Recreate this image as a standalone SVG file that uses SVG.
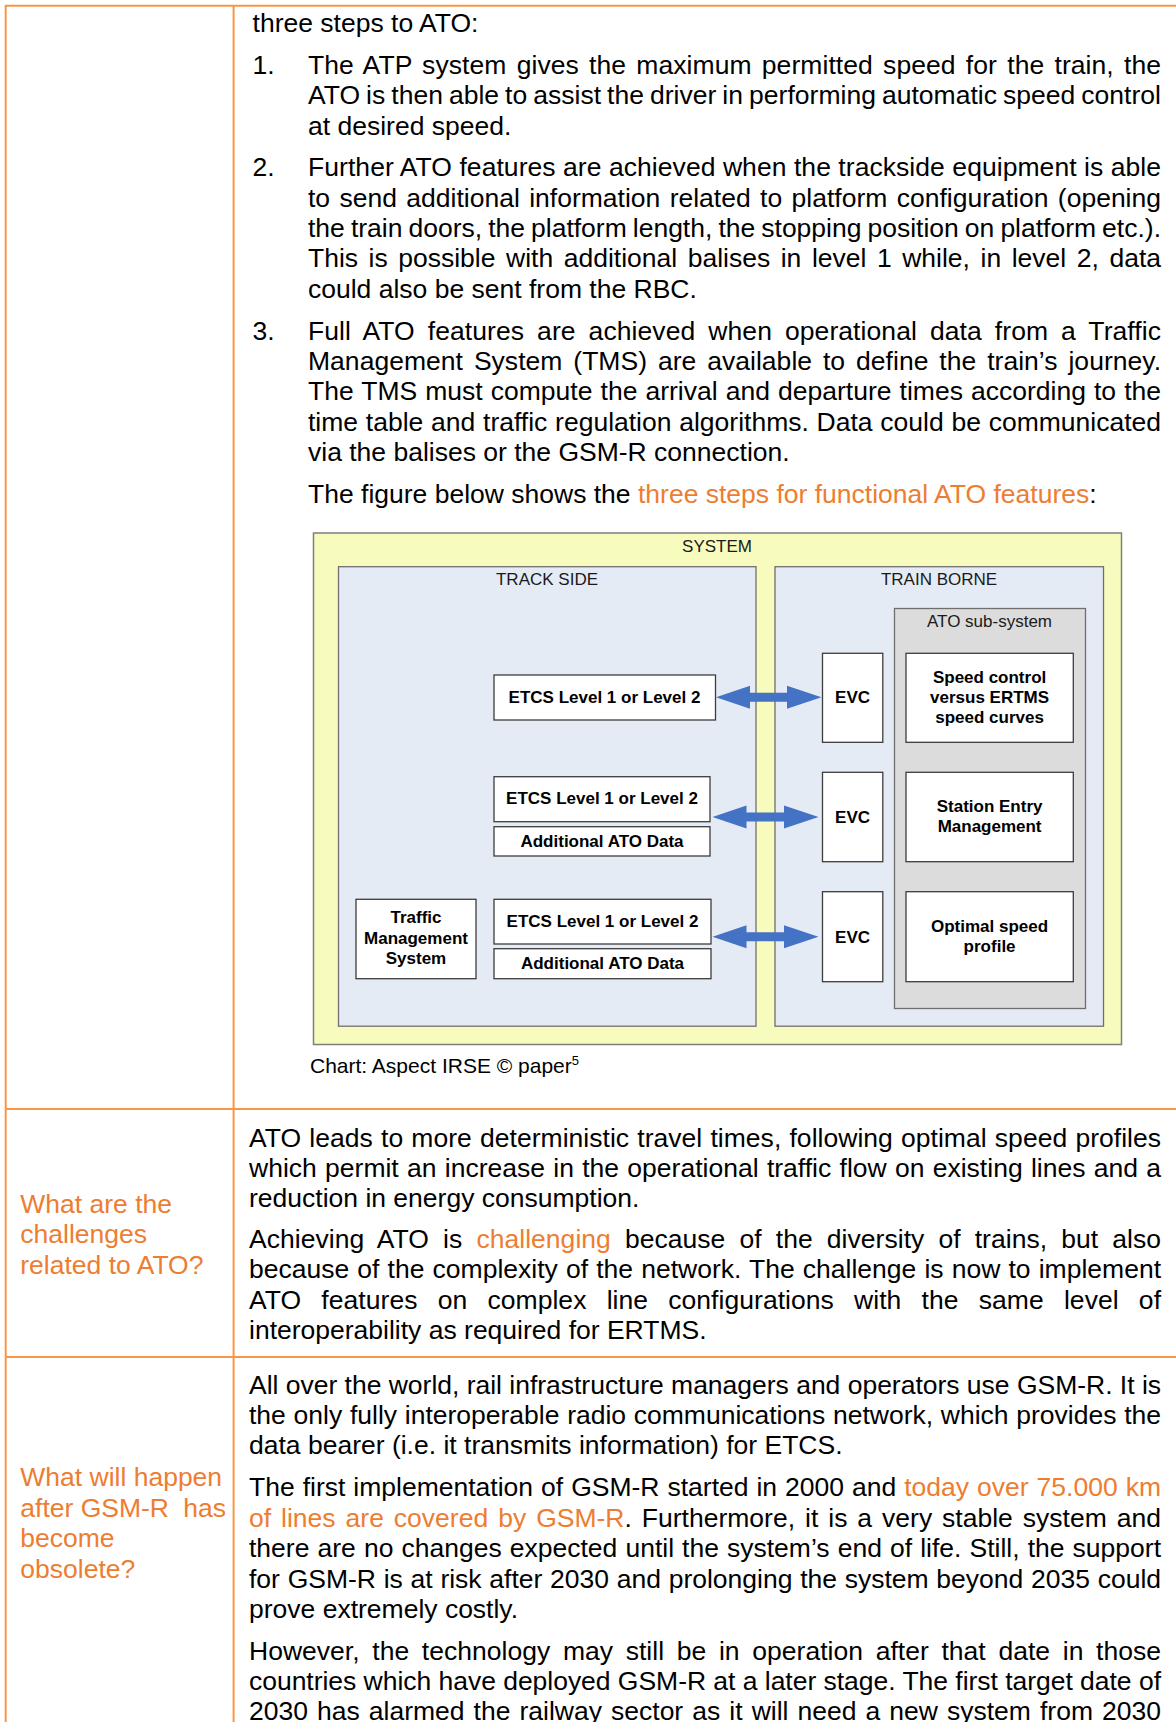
<svg xmlns="http://www.w3.org/2000/svg" width="1176" height="1722" viewBox="0 0 1176 1722">
<style>
.t{font-family:"Liberation Sans",Arial,sans-serif;font-size:26.5px;fill:#000}
.o{fill:#ed7d31}
.lbl{font-family:"Liberation Sans",Arial,sans-serif;font-size:17px;fill:#1a1a1a;text-anchor:middle}
.bx{font-family:"Liberation Sans",Arial,sans-serif;font-size:17px;font-weight:bold;fill:#000;text-anchor:middle}
.grid{stroke:#f79646;stroke-width:2;fill:none}
.box{fill:#fff;stroke:#3c3c3c;stroke-width:1.3}
.arr{fill:#4472c4}
</style>
<rect width="1176" height="1722" fill="#fff"/>
<g id="table-grid">
<line class="grid" x1="5" y1="5.7" x2="1176" y2="5.7"/>
<line class="grid" x1="5.7" y1="5" x2="5.7" y2="1722"/>
<line class="grid" x1="233.6" y1="5" x2="233.6" y2="1722"/>
<line class="grid" x1="5" y1="1109" x2="1176" y2="1109"/>
<line class="grid" x1="5" y1="1357" x2="1176" y2="1357"/>
</g>
<g id="intro-text">
<text class="t" x="252.6" y="32">three steps to ATO:</text>
<text class="t" x="252.6" y="73.7">1.</text>
<text class="t" x="308" y="73.7" word-spacing="2.8" textLength="853" lengthAdjust="spacing">The ATP system gives the maximum permitted speed for the train, the</text>
<text class="t" x="308" y="104.1" word-spacing="-1.4" textLength="853" lengthAdjust="spacing">ATO is then able to assist the driver in performing automatic speed control</text>
<text class="t" x="308" y="134.5">at desired speed.</text>
<text class="t" x="252.6" y="176.2">2.</text>
<text class="t" x="308" y="176.2" textLength="853" lengthAdjust="spacing">Further ATO features are achieved when the trackside equipment is able</text>
<text class="t" x="308" y="206.6" word-spacing="2" textLength="853" lengthAdjust="spacing">to send additional information related to platform configuration (opening</text>
<text class="t" x="308" y="237" word-spacing="-1.3" textLength="853" lengthAdjust="spacing">the train doors, the platform length, the stopping position on platform etc.).</text>
<text class="t" x="308" y="267.4" word-spacing="3.2" textLength="853" lengthAdjust="spacing">This is possible with additional balises in level 1 while, in level 2, data</text>
<text class="t" x="308" y="297.8">could also be sent from the RBC.</text>
<text class="t" x="252.6" y="339.5">3.</text>
<text class="t" x="308" y="339.5" word-spacing="5.5" textLength="853" lengthAdjust="spacing">Full ATO features are achieved when operational data from a Traffic</text>
<text class="t" x="308" y="369.9" word-spacing="3.5" textLength="853" lengthAdjust="spacing">Management System (TMS) are available to define the train’s journey.</text>
<text class="t" x="308" y="400.3" word-spacing="0.7" textLength="853" lengthAdjust="spacing">The TMS must compute the arrival and departure times according to the</text>
<text class="t" x="308" y="430.7" word-spacing="0.4" textLength="853" lengthAdjust="spacing">time table and traffic regulation algorithms. Data could be communicated</text>
<text class="t" x="308" y="461.1">via the balises or the GSM-R connection.</text>
<text class="t" x="308" y="502.8">The figure below shows the <tspan class="o">three steps for functional ATO features</tspan>:</text>
</g>
<g id="system">
<rect x="313.5" y="533" width="808" height="511.5" fill="#f7fbbd" stroke="#7f7f7f" stroke-width="1.5"/>
<text class="lbl" x="717" y="552.3">SYSTEM</text>
</g>
<g id="track-side">
<rect x="338.5" y="566.7" width="417.5" height="459.5" fill="#e5ebf5" stroke="#6f6f6f" stroke-width="1.3"/>
<text class="lbl" x="547" y="585">TRACK SIDE</text>
</g>
<g id="train-borne">
<rect x="775" y="566.7" width="328.5" height="459.5" fill="#e5ebf5" stroke="#6f6f6f" stroke-width="1.3"/>
<text class="lbl" x="939" y="585">TRAIN BORNE</text>
</g>
<g id="ato-subsystem">
<rect x="894.5" y="608.5" width="191" height="400" fill="#dcdcdc" stroke="#6f6f6f" stroke-width="1.3"/>
<text class="lbl" x="989.5" y="627">ATO sub-system</text>
</g>
<g id="etcs1">
<rect class="box" x="494" y="675" width="221.5" height="45"/>
<text class="bx" x="604.5" y="703">ETCS Level 1 or Level 2</text>
</g>
<g id="evc1">
<rect class="box" x="822.5" y="653.3" width="60.3" height="89"/>
<text class="bx" x="852.6" y="703.3">EVC</text>
</g>
<g id="speed-control">
<rect class="box" x="906" y="653.3" width="167.3" height="89"/>
<text class="bx" x="989.6" y="682.7">Speed control</text>
<text class="bx" x="989.6" y="703">versus ERTMS</text>
<text class="bx" x="989.6" y="722.5">speed curves</text>
</g>
<g id="etcs2">
<rect class="box" x="494" y="776.7" width="216" height="45"/>
<text class="bx" x="602" y="804">ETCS Level 1 or Level 2</text>
</g>
<g id="add-ato2">
<rect class="box" x="494" y="826.7" width="216" height="29.3"/>
<text class="bx" x="602" y="846.7">Additional ATO Data</text>
</g>
<g id="evc2">
<rect class="box" x="822.5" y="772.3" width="60.3" height="89.4"/>
<text class="bx" x="852.6" y="822.7">EVC</text>
</g>
<g id="station-entry">
<rect class="box" x="906" y="772.3" width="167.3" height="89.4"/>
<text class="bx" x="989.6" y="812.3">Station Entry</text>
<text class="bx" x="989.6" y="832.3">Management</text>
</g>
<g id="tms">
<rect class="box" x="356" y="899.3" width="120" height="79.4"/>
<text class="bx" x="416" y="923.3">Traffic</text>
<text class="bx" x="416" y="944">Management</text>
<text class="bx" x="416" y="964.3">System</text>
</g>
<g id="etcs3">
<rect class="box" x="494" y="899.3" width="217" height="44.7"/>
<text class="bx" x="602.5" y="926.7">ETCS Level 1 or Level 2</text>
</g>
<g id="add-ato3">
<rect class="box" x="494" y="948.7" width="217" height="30"/>
<text class="bx" x="602.5" y="969.3">Additional ATO Data</text>
</g>
<g id="evc3">
<rect class="box" x="822.5" y="891.7" width="60.3" height="90"/>
<text class="bx" x="852.6" y="942.7">EVC</text>
</g>
<g id="optimal-speed">
<rect class="box" x="906" y="891.7" width="167.3" height="90"/>
<text class="bx" x="989.6" y="931.7">Optimal speed</text>
<text class="bx" x="989.6" y="951.7">profile</text>
</g>
<g id="connectors">
<polygon class="arr" points="716,697.3 750,685.8 750,692.8 787,692.8 787,685.8 821.5,697.3 787,708.8 787,701.8 750,701.8 750,708.8"/>
<polygon class="arr" points="712.5,817 746.5,805.5 746.5,812.5 784,812.5 784,805.5 818.5,817 784,828.5 784,821.5 746.5,821.5 746.5,828.5"/>
<polygon class="arr" points="712.5,936.7 746.5,925.2 746.5,932.2 784,932.2 784,925.2 818.5,936.7 784,948.2 784,941.2 746.5,941.2 746.5,948.2"/>
</g>
<text x="310" y="1072.7" font-family="Liberation Sans, Arial, sans-serif" font-size="21" fill="#000">Chart: Aspect IRSE © paper<tspan font-size="13" dy="-8">5</tspan></text>
<g id="challenges-row">
<text class="t o" x="20.3" y="1212.5">What are the</text>
<text class="t o" x="20.3" y="1243">challenges</text>
<text class="t o" x="20.3" y="1273.5">related to ATO?</text>
<text class="t" x="249" y="1146.5" word-spacing="0.8" textLength="912" lengthAdjust="spacing">ATO leads to more deterministic travel times, following optimal speed profiles</text>
<text class="t" x="249" y="1176.9" word-spacing="0.9" textLength="912" lengthAdjust="spacing">which permit an increase in the operational traffic flow on existing lines and a</text>
<text class="t" x="249" y="1207.3">reduction in energy consumption.</text>
<text class="t" x="249" y="1248" word-spacing="6.7" textLength="912" lengthAdjust="spacing">Achieving ATO is <tspan class="o">challenging</tspan> because of the diversity of trains, but also</text>
<text class="t" x="249" y="1278.4" word-spacing="0.75" textLength="912" lengthAdjust="spacing">because of the complexity of the network. The challenge is now to implement</text>
<text class="t" x="249" y="1308.8" word-spacing="12.8" textLength="912" lengthAdjust="spacing">ATO features on complex line configurations with the same level of</text>
<text class="t" x="249" y="1339.2">interoperability as required for ERTMS.</text>
</g>
<g id="gsmr-row">
<text class="t o" x="20.3" y="1486">What will happen</text>
<text class="t o" y="1516.5"><tspan x="20.3">after GSM-R</tspan><tspan x="226" text-anchor="end">has</tspan></text>
<text class="t o" x="20.3" y="1547">become</text>
<text class="t o" x="20.3" y="1577.5">obsolete?</text>
<text class="t" x="249" y="1393.6" textLength="912" lengthAdjust="spacing">All over the world, rail infrastructure managers and operators use GSM-R. It is</text>
<text class="t" x="249" y="1424" word-spacing="0.4" textLength="912" lengthAdjust="spacing">the only fully interoperable radio communications network, which provides the</text>
<text class="t" x="249" y="1454.4">data bearer (i.e. it transmits information) for ETCS.</text>
<text class="t" x="249" y="1496.3" word-spacing="0.6" textLength="912" lengthAdjust="spacing">The first implementation of GSM-R started in 2000 and <tspan class="o">today over 75.000 km</tspan></text>
<text class="t" x="249" y="1526.7" word-spacing="2.6" textLength="912" lengthAdjust="spacing"><tspan class="o">of lines are covered by GSM-R</tspan>. Furthermore, it is a very stable system and</text>
<text class="t" x="249" y="1557.1" word-spacing="0.7" textLength="912" lengthAdjust="spacing">there are no changes expected until the system’s end of life. Still, the support</text>
<text class="t" x="249" y="1587.5" word-spacing="0.4" textLength="912" lengthAdjust="spacing">for GSM-R is at risk after 2030 and prolonging the system beyond 2035 could</text>
<text class="t" x="249" y="1617.9">prove extremely costly.</text>
<text class="t" x="249" y="1659.6" word-spacing="5.3" textLength="912" lengthAdjust="spacing">However, the technology may still be in operation after that date in those</text>
<text class="t" x="249" y="1690" textLength="912" lengthAdjust="spacing">countries which have deployed GSM-R at a later stage. The first target date of</text>
<text class="t" x="249" y="1720.4" word-spacing="1.7" textLength="912" lengthAdjust="spacing">2030 has alarmed the railway sector as it will need a new system from 2030</text>
</g>
</svg>
